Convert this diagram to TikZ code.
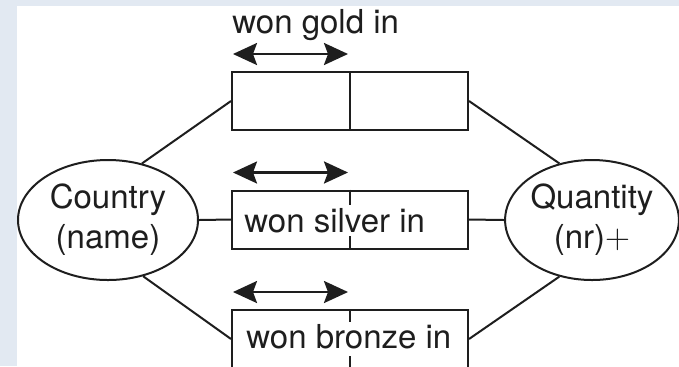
\documentclass[tikz,border=0pt]{standalone}
\usepackage{fontspec}
\setmainfont{TeX Gyre Heros}
\usepackage{xcolor}
\usepackage{tikz}
\usetikzlibrary{shapes.geometric, arrows.meta}
\definecolor{pagebg}{RGB}{226,233,242}
\definecolor{ink}{RGB}{30,30,30}
\tikzset{
  entity/.style={ellipse, draw=ink, line width=1pt, align=center, inner sep=0pt,
                 text=ink, font=\fontsize{16.5}{20}\selectfont},
  relbox/.style={rectangle, draw=ink, line width=1pt, minimum width=118pt,
                 minimum height=29pt, inner sep=0pt},
  role/.style={anchor=base west, inner sep=0pt, text=ink,
               font=\fontsize{16.5}{20}\selectfont},
  link/.style={draw=ink, line width=1pt},
  dirarrow/.style={{Stealth[length=12pt,width=11pt,inset=2pt]}-{Stealth[length=12pt,width=11pt,inset=2pt]},
                   draw=ink, line width=1.3pt},
}

\begin{document}
\begin{tikzpicture}[x=0.5pt, y=-0.5pt]
  \useasboundingbox (0,0) rectangle (679,366);
  \fill[pagebg] (0,0) rectangle (679,366);
  \fill[white] (17,6) rectangle (679,366);

  \node[entity, minimum width=90pt, minimum height=60pt] (country) at (108,220)
    {Country\\(name)};
  \node[entity, minimum width=82.5pt, minimum height=60pt] (quantity) at (592,220)
    {Quantity\\(nr)$+$};

  \node[relbox] (gold) at (350,101) {};
  \node[relbox] (silver) at (350,219.5) {};
  \node[relbox] (bronze) at (350,339) {};

  % role dividers
  \draw[link] (gold.north) -- (gold.south);
  \draw[link] (silver.north) -- ++(0,15);
  \draw[link] (silver.south) -- ++(0,-14);
  \draw[link] (bronze.north) -- ++(0,13);
  \draw[link] (bronze.south) -- ++(0,-13);

  \node[role] (goldtxt) at (232,33) {won gold in};
  \node[role] (silvertxt) at (244,232) {won silver in};
  \node[role] (bronzetxt) at (246,348) {won bronze in};

  % uniqueness arrows over the first role
  \foreach \r in {gold, silver, bronze} {
    \coordinate (\r L) at ([yshift=8.5pt, xshift=1pt]\r.north west);
    \coordinate (\r R) at ([yshift=8.5pt, xshift=-1pt]\r.north);
    \draw[dirarrow] (\r L) -- (\r R);
  }

  \draw[link] (country.59) -- (gold.west);
  \draw[link] (country.east) -- (silver.west);
  \draw[link] (country.-58) -- (bronze.west);
  \draw[link] (gold.east) -- (quantity.120);
  \draw[link] (silver.east) -- (quantity.west);
  \draw[link] (bronze.east) -- (quantity.240);
\end{tikzpicture}
\end{document}
